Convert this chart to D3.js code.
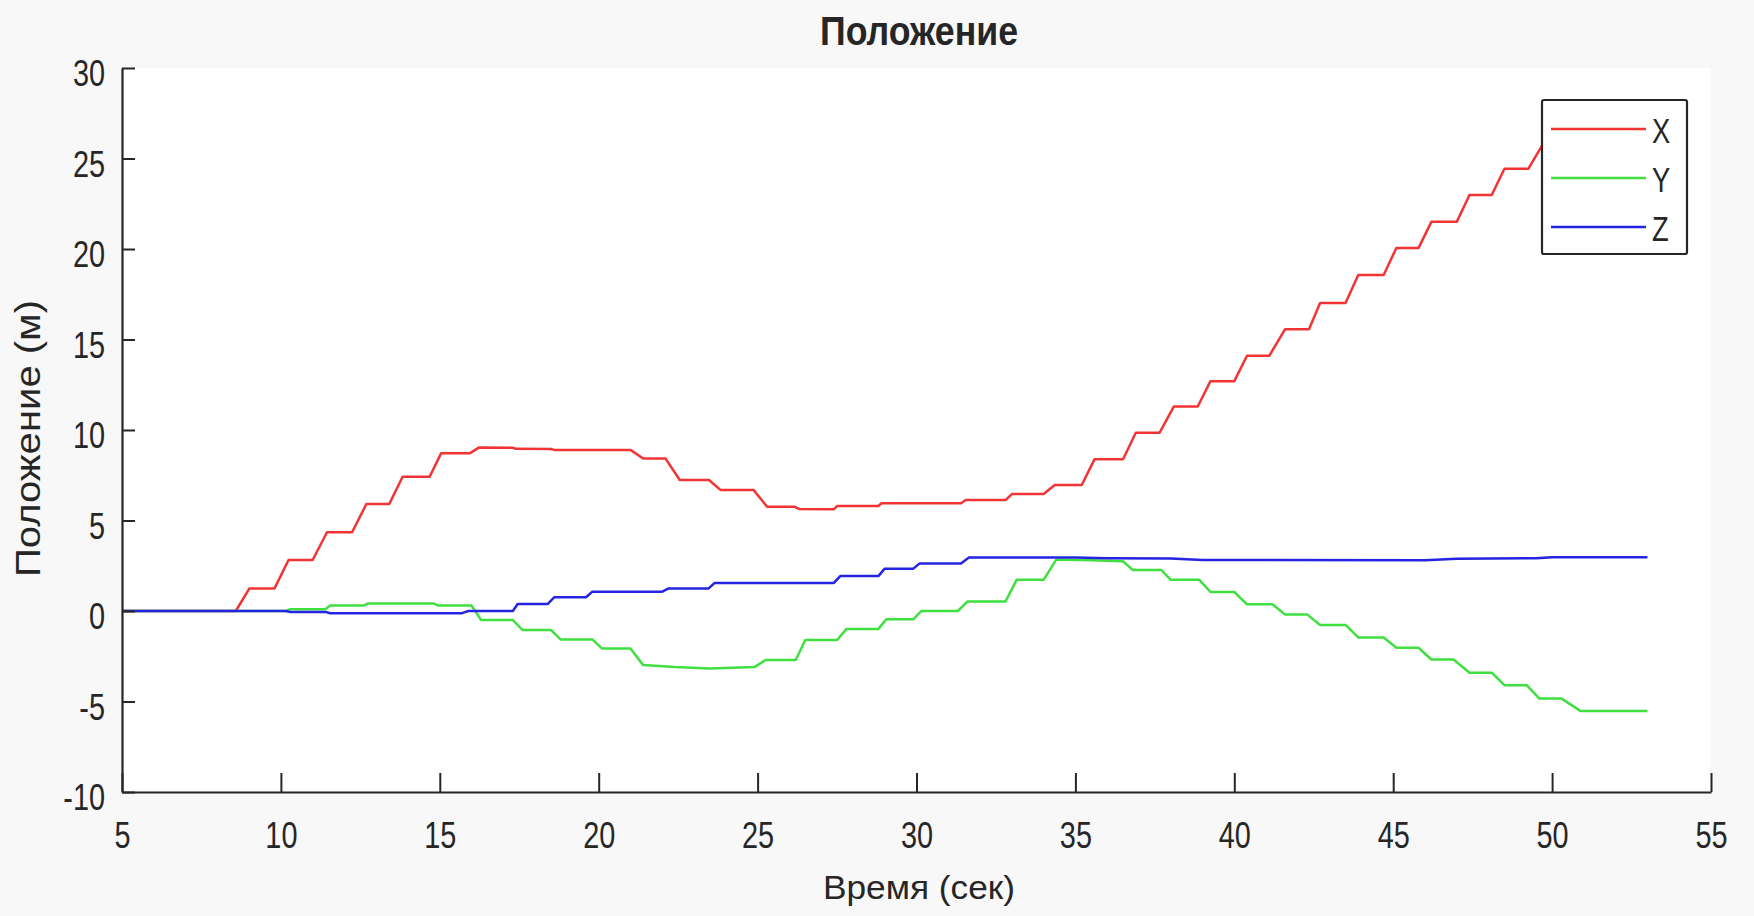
<!DOCTYPE html>
<html>
<head>
<meta charset="utf-8">
<script src="https://cdn.jsdelivr.net/npm/d3@7/dist/d3.min.js"></script>
<style>
  html, body { margin: 0; padding: 0; background: #f8f8f8; }
  svg { display: block; }
  text { font-family: "Liberation Sans", Arial, Helvetica, sans-serif; fill: #262626; }
</style>
</head>
<body>
<svg id="chart" width="1754" height="916"></svg>
<script>
// ---- data -------------------------------------------------------------
const seriesNames  = ["X", "Y", "Z"];
const seriesColors = ["#f23434", "#3fe03f", "#2424e2"];

// X position (m) vs time (s)
const timeX = [5, 8.58, 9.01, 9.8, 10.24, 11.0, 11.45, 12.24, 12.69, 13.41, 13.83, 14.68,
  15.04, 15.94, 16.24, 17.3, 17.4, 18.5, 18.6, 21.0, 21.4, 22.1, 22.55, 23.47, 23.83, 24.87,
  25.3, 26.16, 26.3, 27.4, 27.5, 28.8, 28.9, 31.4, 31.55, 32.8, 33.0, 34.0, 34.35, 35.2,
  35.6, 36.5, 36.9, 37.65, 38.1, 38.85, 39.25, 40.0, 40.4, 41.1, 41.6, 42.35, 42.7, 43.5,
  43.9, 44.7, 45.1, 45.8, 46.2, 47.0, 47.4, 48.1, 48.5, 49.25, 49.75, 50.3, 50.75, 51.5,
  51.9, 53.0];
const posX = [0, 0, 1.25, 1.25, 2.82, 2.82, 4.35, 4.35, 5.91, 5.91, 7.42, 7.42,
  8.71, 8.71, 9.04, 9.02, 8.96, 8.95, 8.9, 8.9, 8.43, 8.43, 7.24, 7.24, 6.69, 6.69,
  5.76, 5.76, 5.64, 5.62, 5.8, 5.8, 5.95, 5.95, 6.13, 6.13, 6.46, 6.46, 6.96, 6.96,
  8.38, 8.38, 9.85, 9.85, 11.3, 11.3, 12.7, 12.7, 14.1, 14.1, 15.57, 15.57, 17.02, 17.02,
  18.56, 18.56, 20.06, 20.06, 21.5, 21.5, 22.98, 22.98, 24.43, 24.43, 25.9, 25.9, 27.3, 27.3,
  27.9, 27.9];

// Y position (m) vs time (s)
const timeY = [5, 10.15, 10.3, 11.4, 11.55, 12.6, 12.75, 14.8, 14.95, 16.0, 16.3, 17.3,
  17.6, 18.5, 18.8, 19.8, 20.1, 21.0, 21.4, 22.4, 23.5, 24.9, 25.25, 26.2, 26.5, 27.5,
  27.8, 28.8, 29.05, 29.9, 30.15, 31.3, 31.6, 32.8, 33.15, 34.0, 34.4, 35.5, 36.5, 36.8,
  37.7, 38.0, 38.9, 39.25, 40.0, 40.4, 41.2, 41.6, 42.3, 42.7, 43.5, 43.9, 44.7, 45.1,
  45.8, 46.2, 46.9, 47.4, 48.1, 48.5, 49.2, 49.6, 50.3, 50.9, 53.0];
const posY = [0, 0, 0.1, 0.1, 0.3, 0.3, 0.42, 0.42, 0.3, 0.3, -0.5, -0.5,
  -1.05, -1.05, -1.57, -1.57, -2.07, -2.07, -2.99, -3.1, -3.17, -3.1, -2.71, -2.71, -1.6, -1.6,
  -0.99, -0.99, -0.46, -0.46, 0.0, 0.0, 0.52, 0.52, 1.72, 1.72, 2.85, 2.8, 2.75, 2.27,
  2.27, 1.72, 1.72, 1.05, 1.05, 0.37, 0.37, -0.2, -0.2, -0.77, -0.77, -1.46, -1.46, -2.03,
  -2.03, -2.68, -2.68, -3.41, -3.41, -4.1, -4.1, -4.84, -4.84, -5.53, -5.53];

// Z position (m) vs time (s)
const timeZ = [5, 10.15, 10.3, 11.4, 11.55, 15.7, 15.9, 17.3, 17.45, 18.4, 18.6, 19.6,
  19.8, 22.0, 22.2, 23.46, 23.65, 27.4, 27.6, 28.8, 29.0, 29.9, 30.1, 31.4, 31.65, 35.0,
  36.0, 38.0, 39.0, 46.0, 47.0, 49.5, 50.0, 53.0];
const posZ = [0, 0, -0.05, -0.05, -0.12, -0.12, 0, 0, 0.39, 0.39, 0.76, 0.76,
  1.07, 1.07, 1.25, 1.25, 1.55, 1.55, 1.93, 1.93, 2.34, 2.34, 2.63, 2.63, 2.95, 2.95,
  2.92, 2.9, 2.82, 2.8, 2.88, 2.92, 2.97, 2.97];

const xTicks = [5, 10, 15, 20, 25, 30, 35, 40, 45, 50, 55];
const yTicks = [-10, -5, 0, 5, 10, 15, 20, 25, 30];

const titleText = "Положение";
const xLabelText = "Время (сек)";
const yLabelText = "Положение (м)";

// ---- layout -----------------------------------------------------------
const svg = d3.select("#chart");
const plot = { left: 122, right: 1711, top: 68, bottom: 792 };
const axisColor = "#262626";
const narrow = 0.78;   // horizontal squeeze applied to tick/legend glyphs
const plainNumber = d => String(d);   // ASCII hyphen for negatives

const x = d3.scaleLinear().domain([5, 55]).range([plot.left, plot.right]);
const y = d3.scaleLinear().domain([-10, 30]).range([plot.bottom, plot.top]);

// white axes area
svg.append("rect")
  .attr("x", plot.left).attr("y", plot.top)
  .attr("width", plot.right - plot.left).attr("height", plot.bottom - plot.top)
  .attr("fill", "#ffffff");

// ---- series -----------------------------------------------------------
const series = [
  { name: seriesNames[0], color: seriesColors[0], pts: d3.zip(timeX, posX) },
  { name: seriesNames[1], color: seriesColors[1], pts: d3.zip(timeY, posY) },
  { name: seriesNames[2], color: seriesColors[2], pts: d3.zip(timeZ, posZ) }
];

const line = d3.line().x(d => x(d[0])).y(d => y(d[1]));

svg.append("g").selectAll("path")
  .data(series)
  .join("path")
  .attr("d", d => line(d.pts))
  .attr("fill", "none")
  .attr("stroke", d => d.color)
  .attr("stroke-width", 2.5)
  .attr("stroke-linejoin", "round");

// ---- axes -------------------------------------------------------------
const yAxis = svg.append("g")
  .attr("transform", `translate(${plot.left},0)`)
  .call(d3.axisLeft(y).tickValues(yTicks).tickFormat(plainNumber)
    .tickSizeInner(-13).tickSizeOuter(0).tickPadding(17));

const xAxis = svg.append("g")
  .attr("transform", `translate(0,${plot.bottom})`)
  .call(d3.axisBottom(x).tickValues(xTicks).tickFormat(plainNumber)
    .tickSizeInner(-19).tickSizeOuter(0).tickPadding(0));

[yAxis, xAxis].forEach(g => {
  g.attr("font-size", null).attr("font-family", null);
  g.select(".domain").attr("stroke", axisColor).attr("stroke-width", 2.2);
  g.selectAll(".tick line").attr("stroke", axisColor).attr("stroke-width", 2);
  g.selectAll(".tick text")
    .attr("fill", axisColor)
    .style("font-size", "37px");
});

yAxis.selectAll(".tick text")
  .attr("x", -17 / narrow)
  .attr("dy", null)
  .attr("y", 17.5)
  .attr("transform", `scale(${narrow},1)`);

xAxis.selectAll(".tick text")
  .attr("x", 0)
  .attr("dy", null)
  .attr("y", 56)
  .attr("transform", `scale(${narrow},1)`);

// ---- titles -----------------------------------------------------------
svg.append("text")
  .attr("x", 919).attr("y", 45)
  .attr("text-anchor", "middle")
  .attr("textLength", 198).attr("lengthAdjust", "spacingAndGlyphs")
  .style("font-size", "41px").style("font-weight", "bold")
  .attr("fill", "#111")
  .text(titleText);

svg.append("text")
  .attr("x", 919).attr("y", 899)
  .attr("text-anchor", "middle")
  .attr("textLength", 192).attr("lengthAdjust", "spacingAndGlyphs")
  .style("font-size", "34px")
  .text(xLabelText);

svg.append("text")
  .attr("transform", "translate(40,438.5) rotate(-90)")
  .attr("text-anchor", "middle")
  .attr("textLength", 277).attr("lengthAdjust", "spacingAndGlyphs")
  .style("font-size", "35px")
  .text(yLabelText);

// ---- legend -----------------------------------------------------------
const legend = svg.append("g").attr("transform", "translate(1542,100)");
legend.append("rect")
  .attr("width", 145).attr("height", 154)
  .attr("rx", 2)
  .attr("fill", "#ffffff")
  .attr("stroke", axisColor).attr("stroke-width", 2.2);

const items = legend.selectAll("g.item")
  .data(series)
  .join("g")
  .attr("class", "item")
  .attr("transform", (d, i) => `translate(0,${29 + i * 49})`);

items.append("line")
  .attr("x1", 9).attr("x2", 104)
  .attr("stroke", d => d.color).attr("stroke-width", 2.5);

items.append("text")
  .attr("x", 110 / narrow).attr("y", 14)
  .attr("transform", `scale(${narrow},1)`)
  .style("font-size", "35px")
  .text(d => d.name);
</script>
</body>
</html>
